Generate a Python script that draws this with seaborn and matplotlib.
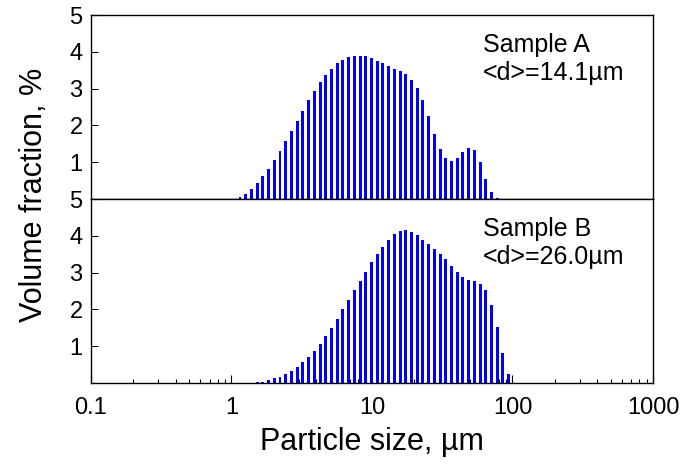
import matplotlib
matplotlib.use("Agg")
import matplotlib.pyplot as plt
import seaborn as sns

# particle size bins (um), shared by both samples
sizes = [1.150, 1.263, 1.387, 1.523, 1.673, 1.837, 2.017, 2.215, 2.433, 2.672,
         2.934, 3.222, 3.539, 3.886, 4.268, 4.687, 5.147, 5.653, 6.208, 6.817,
         7.487, 8.222, 9.029, 9.916, 10.89, 11.96, 13.13, 14.42, 15.84, 17.39,
         19.10, 20.98, 23.04, 25.30, 27.78, 30.51, 33.51, 36.80, 40.41, 44.38,
         48.74, 53.52, 58.78, 64.55, 70.89, 77.85, 85.50, 93.89]

# volume fraction (%) - sample A
vol_a = [0.05, 0.14, 0.27, 0.43, 0.62, 0.82, 1.06, 1.30, 1.58, 1.86,
         2.12, 2.40, 2.68, 2.93, 3.17, 3.38, 3.54, 3.69, 3.78, 3.86,
         3.89, 3.90, 3.88, 3.82, 3.76, 3.69, 3.62, 3.54, 3.47, 3.39,
         3.23, 3.02, 2.69, 2.26, 1.78, 1.37, 1.11, 1.04, 1.11, 1.28,
         1.39, 1.32, 1.01, 0.55, 0.18, 0.02]

# volume fraction (%) - sample B
vol_b = [0.0, 0.005, 0.01, 0.02, 0.04, 0.08, 0.13, 0.17, 0.24, 0.32,
         0.43, 0.56, 0.71, 0.87, 1.06, 1.28, 1.50, 1.75, 2.00, 2.26,
         2.52, 2.77, 3.03, 3.28, 3.51, 3.70, 3.89, 4.04, 4.12, 4.15,
         4.10, 4.02, 3.89, 3.77, 3.64, 3.51, 3.36, 3.18, 3.02, 2.88,
         2.79, 2.76, 2.68, 2.52, 2.13, 1.52, 0.81, 0.25]

labels = ["Sample A", "Sample B"]
mean_d = ["<d>=14.1\u00b5m", "<d>=26.0\u00b5m"]

sns.set_style("ticks")
plt.rcParams["font.family"] = ["Liberation Sans", "DejaVu Sans"]
plt.rcParams["axes.linewidth"] = 1.0
# plain black text everywhere
for k in ["text.color", "axes.labelcolor", "xtick.color", "ytick.color",
          "axes.edgecolor"]:
    plt.rcParams[k] = "black"

fig, (ax1, ax2) = plt.subplots(2, 1, sharex=True, figsize=(6.85, 4.70), dpi=100)
fig.subplots_adjust(left=0.1328, right=0.9533, top=0.968, bottom=0.185, hspace=0)

for ax, vals, lab, dd in [(ax1, vol_a, labels[0], mean_d[0]),
                          (ax2, vol_b, labels[1], mean_d[1])]:
    sns.barplot(x=sizes[:len(vals)], y=vals, native_scale=True,
                log_scale=(True, False), color="#0000ff", saturation=1,
                width=0.52, errorbar=None, linewidth=0, ax=ax)
    ax.set_xscale("log")
    ax.set_xlim(0.1, 1000)
    ax.set_ylim(0, 5)
    ax.set_yticks([1, 2, 3, 4, 5])
    ax.set_yticklabels(["1", "2", "3", "4", "5"])
    ax.set_ylabel("")
    for s in ax.spines.values():
        s.set_visible(True)
        s.set_color("black")
    ax.tick_params(axis="y", direction="in", length=5, width=0.8,
                   labelsize=17, pad=6, right=False, colors="black")
    ax.text(0.6975, 0.80, lab, transform=ax.transAxes, fontsize=18,
            va="baseline", ha="left", color="black")
    ax.text(0.6975, 0.647, dd, transform=ax.transAxes, fontsize=18,
            va="baseline", ha="left", color="black")

ax1.tick_params(axis="x", which="both", bottom=False, labelbottom=False)
ax2.set_xticks([0.1, 1, 10, 100, 1000])
ax2.set_xticklabels(["0.1", "1", "10", "100", "1000"])
ax2.tick_params(axis="x", which="major", direction="in", length=6, width=0.8,
                labelsize=17, pad=10, top=False, colors="black")
ax2.tick_params(axis="x", which="minor", direction="in", length=3, width=0.8,
                top=False, colors="black")
ax2.set_xlabel("Particle size, \u00b5m", fontsize=22, labelpad=6, color="black")

fig.text(0.05, 0.585, "Volume fraction, %", rotation=90, fontsize=22,
         ha="center", va="center", color="black")

fig.savefig("out.png", dpi=100)
